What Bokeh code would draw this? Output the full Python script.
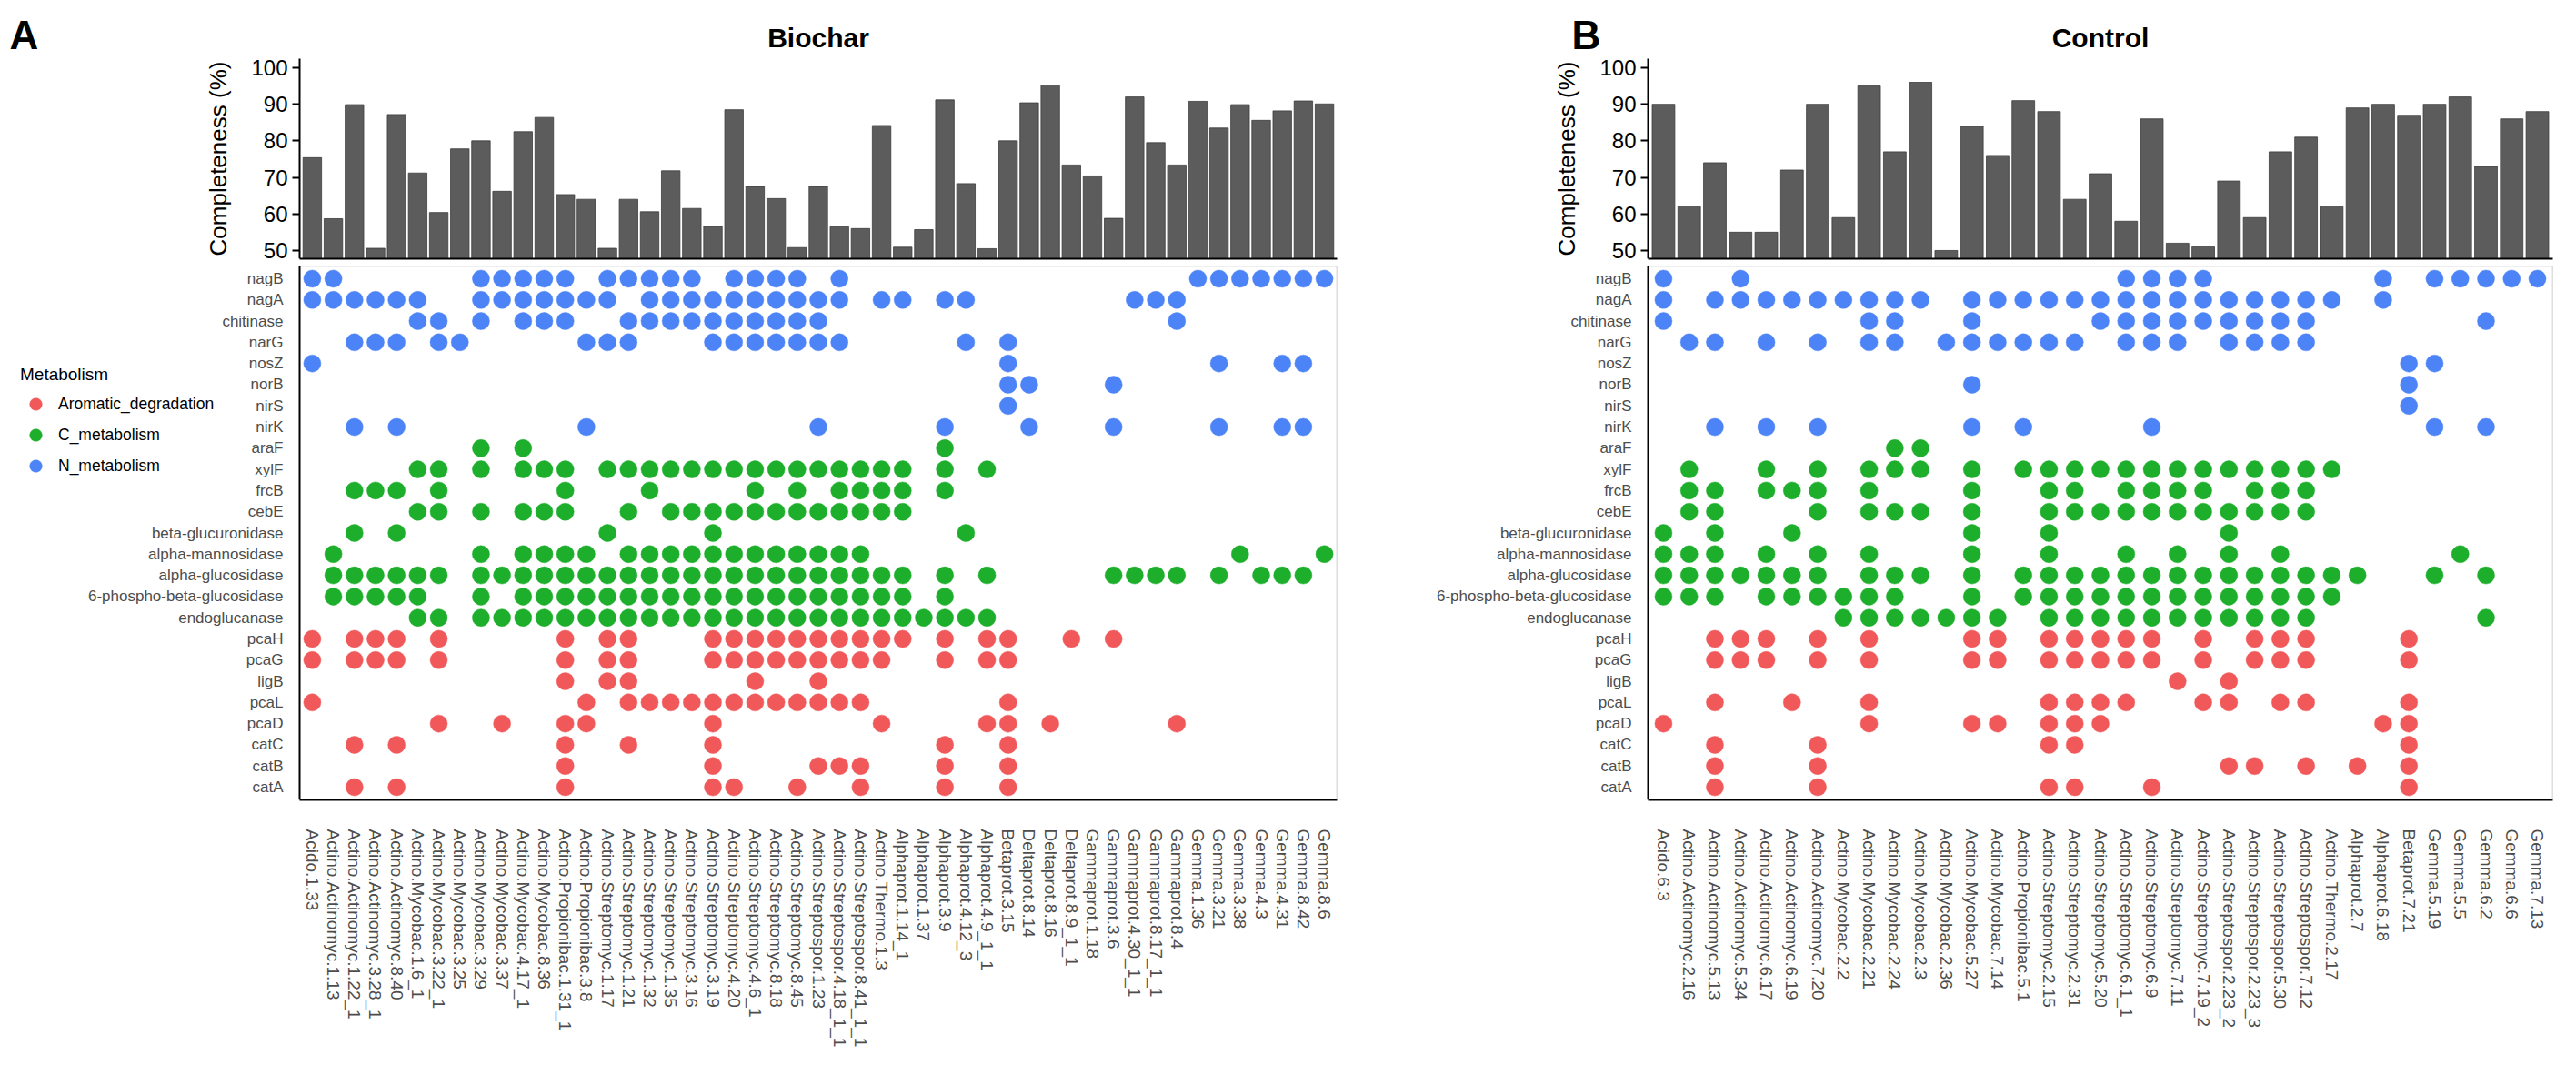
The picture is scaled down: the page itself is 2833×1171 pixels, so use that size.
import math
from bokeh.plotting import figure
from bokeh.layouts import row, column
from bokeh.models import Range1d, FixedTicker, Legend, LegendItem, Label, LinearAxis
from bokeh.embed import file_html
from bokeh.resources import INLINE

FONT = "Liberation Sans"

GENES = ["nagB", "nagA", "chitinase", "narG", "nosZ", "norB", "nirS", "nirK",
         "araF", "xylF", "frcB", "cebE", "beta-glucuronidase", "alpha-mannosidase",
         "alpha-glucosidase", "6-phospho-beta-glucosidase", "endoglucanase",
         "pcaH", "pcaG", "ligB", "pcaL", "pcaD", "catC", "catB", "catA"]
GENE_GROUP = ["N_metabolism"] * 8 + ["C_metabolism"] * 9 + ["Aromatic_degradation"] * 8
GROUP_ORDER = ["Aromatic_degradation", "C_metabolism", "N_metabolism"]
GROUP_COLORS = ["#F0585A", "#1DAE2B", "#4C83F6"]

BIOCHAR_GENOMES = [
    "Acido.1.33", "Actino.Actinomyc.1.13", "Actino.Actinomyc.1.22_1", "Actino.Actinomyc.3.28_1",
    "Actino.Actinomyc.8.40", "Actino.Mycobac.1.6_1", "Actino.Mycobac.3.22_1", "Actino.Mycobac.3.25",
    "Actino.Mycobac.3.29", "Actino.Mycobac.3.37", "Actino.Mycobac.4.17_1", "Actino.Mycobac.8.36",
    "Actino.Propionibac.1.31_1", "Actino.Propionibac.3.8", "Actino.Streptomyc.1.17",
    "Actino.Streptomyc.1.21", "Actino.Streptomyc.1.32", "Actino.Streptomyc.1.35",
    "Actino.Streptomyc.3.16", "Actino.Streptomyc.3.19", "Actino.Streptomyc.4.20",
    "Actino.Streptomyc.4.6_1", "Actino.Streptomyc.8.18", "Actino.Streptomyc.8.45",
    "Actino.Streptospor.1.23", "Actino.Streptospor.4.18_1_1", "Actino.Streptospor.8.41_1_1",
    "Actino.Thermo.1.3", "Alphaprot.1.14_1", "Alphaprot.1.37", "Alphaprot.3.9",
    "Alphaprot.4.12_3", "Alphaprot.4.9_1_1", "Betaprot.3.15", "Deltaprot.8.14", "Deltaprot.8.16",
    "Deltaprot.8.9_1_1", "Gammaprot.1.18", "Gammaprot.3.6", "Gammaprot.4.30_1_1",
    "Gammaprot.8.17_1_1", "Gammaprot.8.4", "Gemma.1.36", "Gemma.3.21", "Gemma.3.38",
    "Gemma.4.3", "Gemma.4.31", "Gemma.8.42", "Gemma.8.6"]
BIOCHAR_COMPLETENESS = [
    75.4, 58.7, 89.9, 50.6, 87.2, 71.2, 60.4, 77.8, 80.0, 66.2,
    82.5, 86.4, 65.3, 64.0, 50.6, 64.0, 60.6, 71.8, 61.5, 56.6,
    88.5, 67.5, 64.2, 50.8, 67.5, 56.5, 56.0, 84.2, 50.9, 55.7,
    91.2, 68.3, 50.5, 80.0, 90.4, 95.1, 73.4, 70.4, 58.8, 92.0,
    79.5, 73.4, 90.8, 83.5, 89.9, 85.6, 88.2, 90.9, 90.1]
BIOCHAR_HITS = {
    "nagB":      "1100000011 1110111110 1111010000 0000000000 001111111",
    "nagA":      "1111110011 1111101111 1111110110 1100000001 110000000",
    "chitinase": "0000011010 1110011111 1111100000 0000000000 010000000",
    "narG":      "0011101100 0001110001 1111110000 0101000000 000000000",
    "nosZ":      "1000000000 0000000000 0000000000 0001000000 000100110",
    "norB":      "0000000000 0000000000 0000000000 0001100010 000000000",
    "nirS":      "0000000000 0000000000 0000000000 0001000000 000000000",
    "nirK":      "0010100000 0001000000 0000100000 1000100010 000100110",
    "araF":      "0000000010 1000000000 0000000000 1000000000 000000000",
    "xylF":      "0000011010 1110111111 1111111110 1010000000 000000000",
    "frcB":      "0011101000 0010001000 0101011110 1000000000 000000000",
    "cebE":      "0000011010 1110010111 1111111110 0000000000 000000000",
    "beta-glucuronidase":         "0010100000 0000100001 0000000000 0100000000 000000000",
    "alpha-mannosidase":          "0100000010 1111011111 1111111000 0000000000 000010001",
    "alpha-glucosidase":          "0111111011 1111111111 1111111110 1010000011 110101110",
    "6-phospho-beta-glucosidase": "0111110010 1111111111 1111111110 1000000000 000000000",
    "endoglucanase":              "0000011011 1111111111 1111111111 1110000000 000000000",
    "pcaH":      "1011101000 0010110001 1111111110 1011001010 000000000",
    "pcaG":      "1011101000 0010110001 1111111100 1011000000 000000000",
    "ligB":      "0000000000 0010110000 0100100000 0000000000 000000000",
    "pcaL":      "1000000000 0001011111 1111111000 0001000000 000000000",
    "pcaD":      "0000001001 0011000001 0000000100 0011010000 010000000",
    "catC":      "0010100000 0010010001 0000000000 1001000000 000000000",
    "catB":      "0000000000 0010000001 0000111000 1001000000 000000000",
    "catA":      "0010100000 0010000001 1001001000 1001000000 000000000",
}

CONTROL_GENOMES = [
    "Acido.6.3", "Actino.Actinomyc.2.16", "Actino.Actinomyc.5.13", "Actino.Actinomyc.5.34",
    "Actino.Actinomyc.6.17", "Actino.Actinomyc.6.19", "Actino.Actinomyc.7.20", "Actino.Mycobac.2.2",
    "Actino.Mycobac.2.21", "Actino.Mycobac.2.24", "Actino.Mycobac.2.3", "Actino.Mycobac.2.36",
    "Actino.Mycobac.5.27", "Actino.Mycobac.7.14", "Actino.Propionibac.5.1", "Actino.Streptomyc.2.15",
    "Actino.Streptomyc.2.31", "Actino.Streptomyc.5.20", "Actino.Streptomyc.6.1_1",
    "Actino.Streptomyc.6.9", "Actino.Streptomyc.7.11", "Actino.Streptomyc.7.19_2",
    "Actino.Streptospor.2.23_2", "Actino.Streptospor.2.23_3", "Actino.Streptospor.5.30",
    "Actino.Streptospor.7.12", "Actino.Thermo.2.17", "Alphaprot.2.7", "Alphaprot.6.18",
    "Betaprot.7.21", "Gemma.5.19", "Gemma.5.5", "Gemma.6.2", "Gemma.6.6", "Gemma.7.13"]
CONTROL_COMPLETENESS = [
    90.0, 62.0, 74.0, 55.0, 55.0, 72.0, 90.0, 59.0, 95.0, 77.0,
    96.0, 50.0, 84.0, 76.0, 91.0, 88.0, 64.0, 71.0, 58.0, 86.0,
    52.0, 51.0, 69.0, 59.0, 77.0, 81.0, 62.0, 89.0, 90.0, 87.0,
    90.0, 92.0, 73.0, 86.0, 88.0]
CONTROL_HITS = {
    "nagB":      "1001000000 0000000011 1100000010 11111",
    "nagA":      "1011111111 1011111111 1111111010 00000",
    "chitinase": "1000000011 0010000111 1111110000 00100",
    "narG":      "0110101011 0111111011 1011110000 00000",
    "nosZ":      "0000000000 0000000000 0000000001 10000",
    "norB":      "0000000000 0010000000 0000000001 00000",
    "nirS":      "0000000000 0000000000 0000000001 00000",
    "nirK":      "0010101000 0010100001 0000000000 10100",
    "araF":      "0000000001 1000000000 0000000000 00000",
    "xylF":      "0100101011 1010111111 1111111000 00000",
    "frcB":      "0110111010 0010011011 1101110000 00000",
    "cebE":      "0110001011 1010011111 1111110000 00000",
    "beta-glucuronidase":         "1010010000 0010010000 0010000000 00000",
    "alpha-mannosidase":          "1110101010 0010010010 1010100000 01000",
    "alpha-glucosidase":          "1111111011 1010111111 1111111100 10100",
    "6-phospho-beta-glucosidase": "1110111111 0010111111 1111111000 00000",
    "endoglucanase":              "0000000111 1111011111 1111110000 00100",
    "pcaH":      "0011101010 0011011111 0101110001 00000",
    "pcaG":      "0011101010 0011011111 0101110001 00000",
    "ligB":      "0000000000 0000000000 1010000000 00000",
    "pcaL":      "0010010010 0000011110 0110110001 00000",
    "pcaD":      "1000000010 0011011100 0000000011 00000",
    "catC":      "0010001000 0000011000 0000000001 00000",
    "catB":      "0010001000 0000000000 0011010101 00000",
    "catA":      "0010001000 0000011001 0000000001 00000",
}

YTICKS = [50, 60, 70, 80, 90, 100]

BAR_H = 292          # height of the bar figure (px)
BAR_PAD_BOTTOM = 8
MAT_H = 863
MAT_PAD_BOTTOM = 276
PX_PER_PCT = 4.02
Y_LO = 47.75


def style_hidden_axis(ax, color):
    ax.ticker = FixedTicker(ticks=[])
    ax.major_label_text_font_size = "0px"
    ax.major_label_standoff = 0
    ax.major_tick_line_color = None
    ax.minor_tick_line_color = None
    ax.axis_line_color = color


def build_panel(title, letter, genomes, completeness, hits, fig_w, lead_px, letter_px,
                with_legend):
    n = len(genomes)
    ng = len(GENES)
    frame_w = fig_w - 10
    unit = (frame_w - lead_px) / (n + 0.2)
    x_lo = -0.6 - lead_px / unit
    x_hi = n - 1 + 0.6
    xr = Range1d(x_lo, x_hi)

    # ---------------- completeness bars ----------------
    bar_frame_h = BAR_H - BAR_PAD_BOTTOM
    bar = figure(width=fig_w, height=BAR_H, x_range=xr,
                 y_range=Range1d(Y_LO, Y_LO + bar_frame_h / PX_PER_PCT),
                 output_backend="svg", toolbar_location=None,
                 min_border_left=0, min_border_right=10,
                 min_border_top=0, min_border_bottom=BAR_PAD_BOTTOM)
    bar.vbar(x=list(range(n)), top=completeness, bottom=0, width=0.88,
             fill_color="#5C5C5C", line_color="#3C3C3C", line_width=0.8)
    bar.xgrid.visible = False
    bar.ygrid.visible = False
    bar.outline_line_color = None
    yax = bar.yaxis[0]
    yax.fixed_location = -0.6
    yax.bounds = (47.5, 102.5)
    yax.ticker = FixedTicker(ticks=YTICKS)
    yax.axis_label = "Completeness (%)"
    yax.axis_label_text_font = FONT
    yax.axis_label_text_font_size = "26px"
    yax.axis_label_text_font_style = "normal"
    yax.axis_label_text_color = "black"
    yax.axis_label_standoff = 18
    yax.major_label_text_font = FONT
    yax.major_label_text_font_size = "24px"
    yax.major_label_text_color = "black"
    yax.major_tick_out = 8
    yax.major_tick_in = 0
    yax.minor_tick_line_color = None
    yax.axis_line_width = 2
    yax.major_tick_line_width = 2
    xax = bar.xaxis[0]
    style_hidden_axis(xax, "black")
    xax.bounds = (-0.6, n - 0.4)
    xax.axis_line_width = 2

    # panel letter and title (inside the frame, screen units from frame bottom-left)
    bar.add_layout(Label(x=letter_px, y=bar_frame_h - 13, x_units="screen", y_units="screen",
                         text=letter, text_font=FONT, text_font_size="44px",
                         text_font_style="bold", text_color="black",
                         text_baseline="top", text_align="left"))
    bar.add_layout(Label(x=lead_px + (frame_w - lead_px) / 2, y=bar_frame_h - 41,
                         x_units="screen", y_units="screen",
                         text=title, text_font=FONT, text_font_size="30px",
                         text_font_style="bold", text_color="black",
                         text_baseline="middle", text_align="center"))

    # ---------------- presence matrix ----------------
    mat = figure(width=fig_w, height=MAT_H, x_range=xr, y_range=Range1d(-0.6, ng - 1 + 0.6),
                 output_backend="svg", toolbar_location=None,
                 min_border_left=0, min_border_right=10,
                 min_border_top=0, min_border_bottom=MAT_PAD_BOTTOM)
    mat.xgrid.visible = False
    mat.ygrid.visible = False
    mat.outline_line_color = None

    items = []
    for grp, color in zip(GROUP_ORDER, GROUP_COLORS):
        xs, ys = [], []
        for r, gene in enumerate(GENES):
            if GENE_GROUP[r] != grp:
                continue
            for c, ch in enumerate(hits[gene].replace(" ", "")):
                if ch == "1":
                    xs.append(c)
                    ys.append(ng - 1 - r)
        rend = mat.scatter(xs, ys, size=19, fill_color=color, line_color=color, line_width=0.5)
        items.append(LegendItem(label=grp, renderers=[rend]))

    my = mat.yaxis[0]
    my.fixed_location = -0.6
    my.ticker = FixedTicker(ticks=list(range(ng)))
    my.major_label_overrides = {ng - 1 - r: g for r, g in enumerate(GENES)}
    my.major_label_text_font = FONT
    my.major_label_text_font_size = "17px"
    my.major_label_text_color = "#4D4D4D"
    my.major_tick_line_color = None
    my.minor_tick_line_color = None
    my.major_label_standoff = 12
    my.axis_line_width = 2

    mx = mat.xaxis[0]
    mx.bounds = (-0.6, n - 0.4)
    mx.ticker = FixedTicker(ticks=list(range(n)))
    mx.major_label_overrides = {i: g for i, g in enumerate(genomes)}
    mx.major_label_orientation = -math.pi / 2
    mx.major_label_text_font = FONT
    mx.major_label_text_font_size = "19px"
    mx.major_label_text_color = "#4D4D4D"
    mx.major_tick_line_color = None
    mx.minor_tick_line_color = None
    mx.major_label_standoff = 26
    mx.axis_line_width = 2

    top_ax = LinearAxis(fixed_location=ng - 1 + 0.6, bounds=(-0.6, n - 0.4))
    style_hidden_axis(top_ax, "#BDBDBD")
    top_ax.axis_line_width = 1.5
    mat.add_layout(top_ax, "above")
    right_ax = LinearAxis(fixed_location=n - 0.4, bounds=(-0.6, ng - 1 + 0.6))
    style_hidden_axis(right_ax, "#BDBDBD")
    right_ax.axis_line_width = 1.5
    mat.add_layout(right_ax, "right")

    if with_legend:
        leg = Legend(items=items, location=(22, 350), title="Metabolism",
                     title_text_font=FONT, title_text_font_size="19px",
                     title_text_font_style="normal", title_text_color="black",
                     title_standoff=4,
                     label_text_font=FONT, label_text_font_size="17.5px",
                     label_text_color="black",
                     glyph_width=34, glyph_height=34, spacing=-3, label_standoff=8,
                     padding=0, margin=0, border_line_color=None, background_fill_alpha=0)
        mat.add_layout(leg)

    return column(bar, mat, spacing=0)


# Biochar: figure spans page x 8..1488, matrix starts 329 px into it
left = build_panel("Biochar", "A", BIOCHAR_GENOMES, BIOCHAR_COMPLETENESS, BIOCHAR_HITS,
                   1480, 329, 10, True)
# Control: figure spans page x 1488..2825, matrix starts 332 px into it
right = build_panel("Control", "B", CONTROL_GENOMES, CONTROL_COMPLETENESS, CONTROL_HITS,
                    1337, 332, 248, False)
page = row(left, right, spacing=0)

open("out.html", "w").write(file_html(page, INLINE))
